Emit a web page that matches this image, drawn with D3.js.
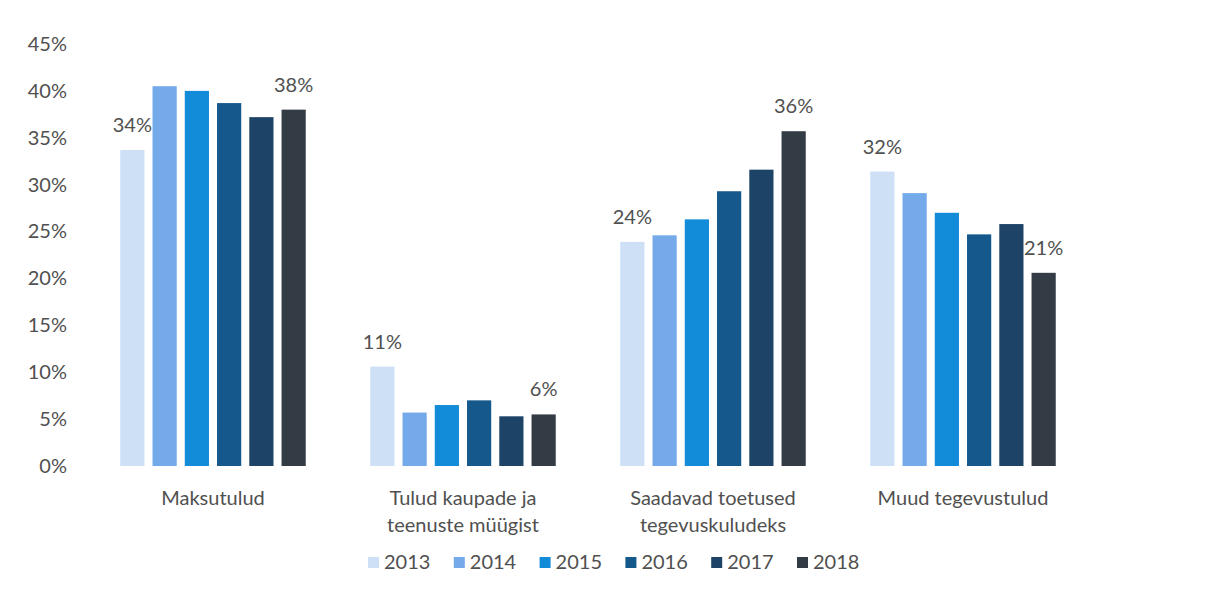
<!DOCTYPE html>
<html><head><meta charset="utf-8">
<script src="https://cdn.jsdelivr.net/npm/d3@7"></script>
<style>body{margin:0;background:#fff;}svg{display:block;}</style>
</head><body>
<svg id="c" width="1206" height="593"></svg>
<script>
const categories = [["Maksutulud"], ["Tulud kaupade ja", "teenuste müügist"], ["Saadavad toetused", "tegevuskuludeks"], ["Muud tegevustulud"]];
const years = ["2013", "2014", "2015", "2016", "2017", "2018"];
const v2013 = [0.337, 0.106, 0.239, 0.314];
const v2014 = [0.405, 0.057, 0.246, 0.291];
const v2015 = [0.400, 0.065, 0.263, 0.270];
const v2016 = [0.387, 0.070, 0.293, 0.247];
const v2017 = [0.372, 0.053, 0.316, 0.258];
const v2018 = [0.380, 0.055, 0.357, 0.206];
const yTicks = [0, 0.05, 0.10, 0.15, 0.20, 0.25, 0.30, 0.35, 0.40, 0.45];
const labelText2013 = ["34%", "11%", "24%", "32%"];
const labelText2018 = ["38%", "6%", "36%", "21%"];
const colors = ["#cde0f6", "#74aaea", "#128bd8", "#15588c", "#1d4466", "#333c45"];

const series = [v2013, v2014, v2015, v2016, v2017, v2018];
const svg = d3.select("#c");
const font = "Lato, 'Open Sans', sans-serif";
const txt = "#505050";
const fs = 20;

const y = d3.scaleLinear().domain([0, 0.45]).range([466, 44]);
const x0 = d3.scaleBand().domain(categories.map((c, i) => i)).range([88, 1088]);
const x1 = d3.scaleBand().domain(years).range([0, x0.bandwidth()]).paddingInner(0.25).paddingOuter(1.0);

// y axis
const yAxis = d3.axisLeft(y).tickValues(yTicks).tickFormat(d3.format(".0%")).tickSize(0).tickPadding(0);
const ga = svg.append("g").attr("transform", "translate(67,0)").call(yAxis);
ga.select(".domain").remove();
ga.selectAll("text").attr("font-family", font).attr("font-size", fs).attr("fill", txt);

// bars
categories.forEach((c, ci) => {
  const g = svg.append("g").attr("transform", `translate(${x0(ci)},0)`);
  g.selectAll("rect").data(years).join("rect")
    .attr("x", yr => x1(yr))
    .attr("width", x1.bandwidth())
    .attr("y", (yr, si) => y(series[si][ci]))
    .attr("height", (yr, si) => y(0) - y(series[si][ci]))
    .attr("fill", (yr, si) => colors[si]);
  // data labels
  g.append("text").attr("x", x1("2013") + x1.bandwidth() / 2).attr("y", y(v2013[ci]) - 18)
    .attr("text-anchor", "middle").attr("font-family", font).attr("font-size", fs).attr("fill", txt)
    .text(labelText2013[ci]);
  g.append("text").attr("x", x1("2018") + x1.bandwidth() / 2).attr("y", y(v2018[ci]) - 18)
    .attr("text-anchor", "middle").attr("font-family", font).attr("font-size", fs).attr("fill", txt)
    .text(labelText2018[ci]);
  // category label
  const t = svg.append("text").attr("x", x0(ci) + x0.bandwidth() / 2).attr("y", 505)
    .attr("text-anchor", "middle").attr("font-family", font).attr("font-size", fs).attr("fill", txt);
  c.forEach((line, li) => t.append("tspan").attr("x", x0(ci) + x0.bandwidth() / 2).attr("dy", li ? 27 : 0).text(line));
});

// legend
const lx = d3.scalePoint().domain(years).range([368, 797]);
const lg = svg.append("g");
years.forEach((yr, i) => {
  lg.append("rect").attr("x", lx(yr)).attr("y", 557).attr("width", 11).attr("height", 11).attr("fill", colors[i]);
  lg.append("text").attr("x", lx(yr) + 16).attr("y", 569).attr("font-family", font).attr("font-size", fs).attr("fill", txt).text(yr);
});
</script>
</body></html>
